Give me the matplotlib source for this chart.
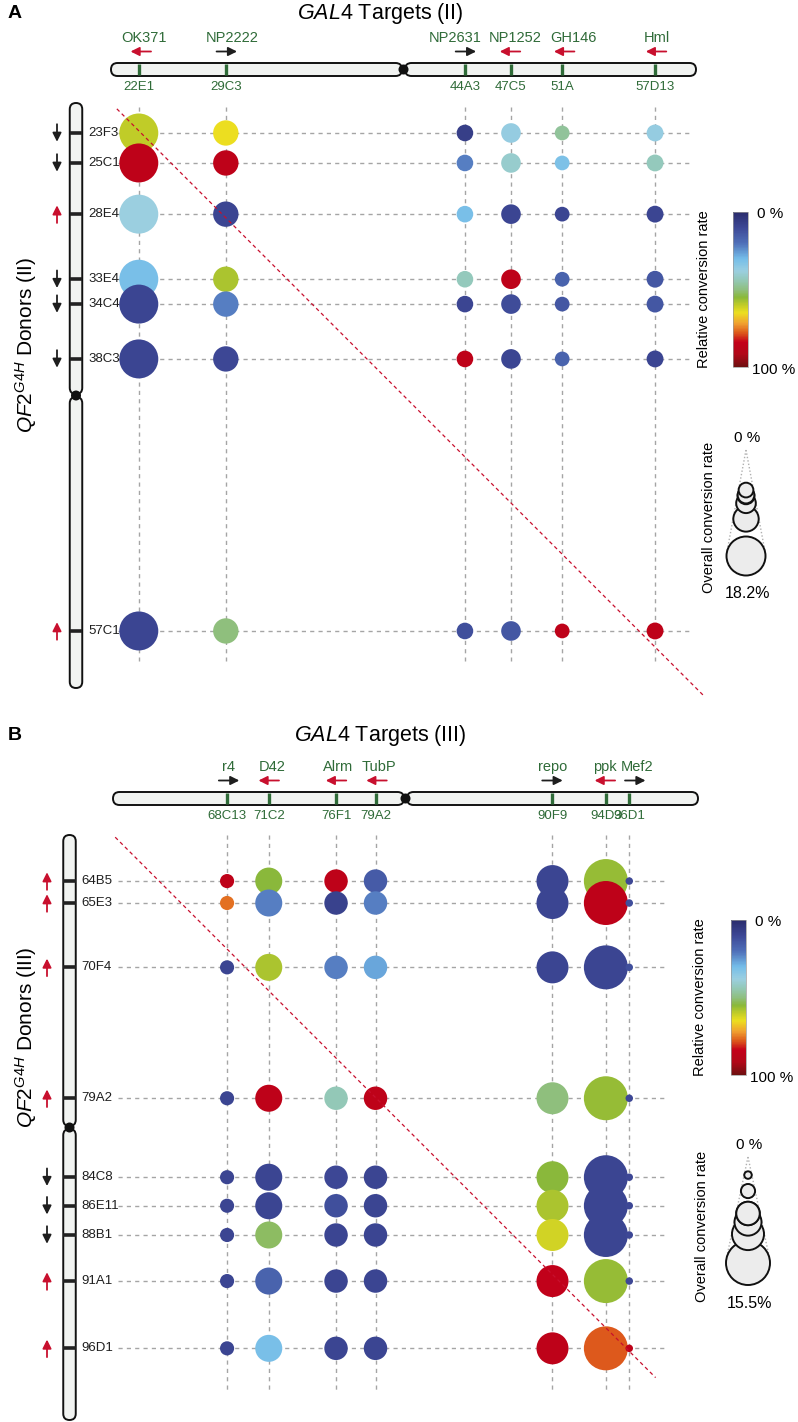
import numpy as np
import matplotlib
matplotlib.use('Agg')
import matplotlib.pyplot as plt
from matplotlib.colors import LinearSegmentedColormap, Normalize
from matplotlib.patches import FancyBboxPatch, Circle
from matplotlib.cm import ScalarMappable

plt.rcParams['font.family'] = ['Liberation Sans', 'DejaVu Sans']
plt.rcParams['mathtext.fontset'] = 'custom'
plt.rcParams['mathtext.it'] = 'Liberation Sans:italic'
plt.rcParams['mathtext.rm'] = 'Liberation Sans'

# ---------------------------------------------------------------- data
# Panel A : chromosome II
a_targets = ['OK371', 'NP2222', 'NP2631', 'NP1252', 'GH146', 'Hml']
a_target_bands = ['22E1', '29C3', '44A3', '47C5', '51A', '57D13']
a_target_pos = [22.9, 28.85, 45.2, 48.35, 51.85, 58.2]      # cytological map position
a_target_dir = [-1, 1, 1, -1, -1, -1]                      # -1 = <- , 1 = ->
a_target_rate = [18.2, 7.7, 3.3, 4.6, 2.6, 3.4]            # overall conversion rate (%)
a_donors = ['23F3', '25C1', '28E4', '33E4', '34C4', '38C3', '57C1']
a_donor_pos = [23.05, 25.1, 28.6, 33.05, 34.75, 38.5, 57.1]
a_donor_dir = [-1, -1, 1, -1, -1, -1, 1]                   # 1 = up, -1 = down
a_rel = [  # relative conversion rate (0..1), rows = donors, cols = targets
    [0.60, 0.65, 0.07, 0.37, 0.47, 0.37],
    [0.86, 0.86, 0.22, 0.41, 0.32, 0.43],
    [0.38, 0.09, 0.31, 0.09, 0.09, 0.09],
    [0.31, 0.58, 0.43, 0.86, 0.17, 0.14],
    [0.09, 0.22, 0.09, 0.11, 0.14, 0.14],
    [0.09, 0.10, 0.86, 0.09, 0.17, 0.09],
    [0.09, 0.50, 0.12, 0.14, 0.86, 0.86],
]

# Panel B : chromosome III
b_targets = ['r4', 'D42', 'Alrm', 'TubP', 'repo', 'ppk', 'Mef2']
b_target_bands = ['68C13', '71C2', '76F1', '79A2', '90F9', '94D3', '96D1']
b_target_pos = [68.8, 71.65, 76.25, 78.95, 91.05, 94.7, 96.3]
b_target_dir = [1, -1, -1, -1, 1, -1, 1]
b_target_rate = [1.6, 5.85, 4.4, 4.4, 8.2, 15.5, 0.45]
b_donors = ['64B5', '65E3', '70F4', '79A2', '84C8', '86E11', '88B1', '91A1', '96D1']
b_donor_pos = [64.15, 65.65, 70.05, 79.0, 84.4, 86.35, 88.35, 91.5, 96.1]
b_donor_dir = [1, 1, 1, 1, -1, -1, -1, 1, 1]
b_rel = [
    [0.86, 0.55, 0.86, 0.15, 0.09, 0.56, 0.10],
    [0.76, 0.22, 0.08, 0.22, 0.09, 0.86, 0.12],
    [0.09, 0.58, 0.22, 0.27, 0.09, 0.09, 0.12],
    [0.09, 0.86, 0.44, 0.86, 0.50, 0.56, 0.10],
    [0.09, 0.09, 0.10, 0.09, 0.55, 0.09, 0.10],
    [0.09, 0.09, 0.12, 0.09, 0.58, 0.09, 0.10],
    [0.09, 0.52, 0.09, 0.09, 0.62, 0.09, 0.10],
    [0.09, 0.17, 0.09, 0.09, 0.85, 0.56, 0.10],
    [0.09, 0.31, 0.09, 0.09, 0.86, 0.78, 0.86],
]

# ---------------------------------------------------------------- style
W, H, DPI = 798, 1422, 100
S = 14.625                      # pixels per cytological unit
GREEN = '#2f6b38'
RED = '#c8102e'
DARK = '#1e1e1e'
GRID = '#a5a5a5'

cmap = LinearSegmentedColormap.from_list('conv', [
    (0.00, '#2a2c6c'), (0.10, '#3d4896'), (0.20, '#4f6fb8'), (0.30, '#74bde9'),
    (0.38, '#9bcfe0'), (0.44, '#93c8b6'), (0.50, '#8fbf80'), (0.55, '#8ab83a'),
    (0.60, '#c0cc28'), (0.65, '#ecdf20'), (0.72, '#f0a030'), (0.78, '#dd5a1c'),
    (0.84, '#c4001a'), (0.92, '#b00818'), (1.00, '#6e1010')])
norm = Normalize(0, 1)

fig = plt.figure(figsize=(W / DPI, H / DPI), dpi=DPI)


def fx(px):
    return px / W


def fy(py):
    return 1 - py / H


def draw_panel(top_px, bot_px, lo, hi, cen, ox, oy, L,
               letter, title, ylabel, targets, bands, tpos, tdir, trate,
               donors, dpos, ddir, rel):
    ax = fig.add_axes([0, 1 - bot_px / H, 1, (bot_px - top_px) / H])
    ax.set_xlim(lo + (0 - ox) / S, lo + (W - ox) / S)
    ax.set_ylim(lo + (bot_px - oy) / S, lo + (top_px - oy) / S)
    ax.axis('off')

    def X(px):
        return lo + (px - ox) / S

    def Y(py):
        return lo + (py - oy) / S

    # headings
    fig.text(fx(8), fy(L['letter_y']), letter, fontsize=14, fontweight='bold',
             ha='left', va='center')
    fig.text(fx(380), fy(L['letter_y']), title, fontsize=15.5, ha='center', va='center')
    fig.text(fx(26), fy(L['ylabel_y']), ylabel, fontsize=15, rotation=90,
             ha='center', va='center')

    # horizontal chromosome (targets)
    bcy = Y(L['bar_cy'])
    hb = 13 / S
    for a, b in [(lo, cen - 0.1), (cen + 0.1, hi)]:
        ax.add_patch(FancyBboxPatch((a, bcy - hb / 2), b - a, hb,
                                    boxstyle=f'round,pad=0,rounding_size={hb / 2}',
                                    fc='#f1f3f1', ec='#111111', lw=1.4, zorder=3))
    ax.add_patch(Circle((cen, bcy), 5 / S, fc='#111111', ec='none', zorder=4))
    for i, t in enumerate(tpos):
        ax.plot([t, t], [bcy - hb / 2 + 0.05, bcy + hb / 2 - 0.05], color=GREEN,
                lw=2.4, solid_capstyle='butt', zorder=4)
        ax.text(t + L['lab_off'][i] / S, Y(L['bar_cy'] - 31), targets[i],
                ha='center', va='center', color=GREEN, fontsize=10.5)
        ax.text(t, Y(L['bar_cy'] + 17.5), bands[i], ha='center', va='center',
                color=GREEN, fontsize=9.5)
        c = RED if tdir[i] < 0 else DARK
        axc = t + L['arr_off'][i] / S
        ay = Y(L['bar_cy'] - 18)
        ax.annotate('', xy=(axc + tdir[i] * 0.7, ay), xytext=(axc - tdir[i] * 0.7, ay),
                    arrowprops=dict(arrowstyle='-|>', color=c, lw=1.3,
                                    mutation_scale=13, shrinkA=0, shrinkB=0))

    # vertical chromosome (donors)
    ccx = X(L['chrom_cx'])
    wc = 12.5 / S
    for a, b in [(lo, cen - 0.1), (cen + 0.1, hi)]:
        ax.add_patch(FancyBboxPatch((ccx - wc / 2, a), wc, b - a,
                                    boxstyle=f'round,pad=0,rounding_size={wc / 2}',
                                    fc='#f1f3f1', ec='#111111', lw=1.4, zorder=3))
    ax.add_patch(Circle((ccx, cen), 5 / S, fc='#111111', ec='none', zorder=4))
    for j, d in enumerate(dpos):
        ax.plot([ccx - wc / 2, ccx + wc / 2], [d, d], color='#222222', lw=2.6,
                solid_capstyle='butt', zorder=4)
        ax.text(X(L['chrom_cx'] + 12), d, donors[j], ha='left', va='center',
                fontsize=9.5, color=DARK)
        c = RED if ddir[j] > 0 else DARK
        axx = X(L['arrow_x'])
        ax.annotate('', xy=(axx, d - ddir[j] * 0.6), xytext=(axx, d + ddir[j] * 0.6),
                    arrowprops=dict(arrowstyle='-|>', color=c, lw=1.3,
                                    mutation_scale=13, shrinkA=0, shrinkB=0))

    # dashed guide lines
    for t in tpos:
        ax.plot([t, t], [Y(L['bar_cy'] + 37), hi - 27 / S], color=GRID, lw=1.0,
                ls=(0, (3, 3)), zorder=1)
    for d in dpos:
        ax.plot([X(118), tpos[-1] + 2.4], [d, d], color=GRID, lw=1.0,
                ls=(0, (3, 3)), zorder=1)

    # bubbles
    rates = np.array(trate)
    r_px = L['rmax'] * np.sqrt(rates / rates.max())
    vals = np.array(rel)
    xs, ys = np.meshgrid(tpos, dpos)
    ss = np.tile((2 * r_px * 72 / DPI) ** 2, (len(dpos), 1))
    ax.scatter(xs.ravel(), ys.ravel(), s=ss.ravel(), c=vals.ravel(), cmap=cmap,
               norm=norm, linewidths=0, zorder=3)

    # diagonal
    d0, d1 = L['diag']
    ax.plot([d0, d1], [d0, d1], color=RED, lw=0.9, ls=(0, (3, 2.5)), zorder=5)

    # colour bar
    cx0, cy0, cx1, cy1 = L['cbar']
    cax = fig.add_axes([fx(cx0), fy(cy1), (cx1 - cx0) / W, (cy1 - cy0) / H])
    cb = fig.colorbar(ScalarMappable(norm=norm, cmap=cmap), cax=cax)
    cax.invert_yaxis()
    cb.set_ticks([])
    cb.outline.set_linewidth(0.5)
    cb.outline.set_edgecolor('#999999')
    fig.text(fx(cx1 + 9), fy(cy0 + 2), '0 %', fontsize=11, ha='left', va='center')
    fig.text(fx(cx1 + 4), fy(cy1 + 3), '100 %', fontsize=11, ha='left', va='center')
    fig.text(fx(L['rel_x']), fy((cy0 + cy1) / 2), 'Relative conversion rate',
             fontsize=10.5, rotation=90, ha='center', va='center')

    # size legend (cone)
    apx, apy = L['apex']
    D = 106
    rmax = L['rmax']
    sin_t = rmax / D
    cos_t = np.sqrt(1 - sin_t ** 2)
    Ltan = D * cos_t
    for sgn in (-1, 1):
        ax.plot([X(apx), X(apx + sgn * Ltan * sin_t)], [Y(apy), Y(apy + Ltan * cos_t)],
                color='#b0b0b0', lw=1.0, ls=(0, (1, 1.5)), zorder=2)
    for r in sorted(r_px, reverse=True):
        ax.add_patch(Circle((X(apx), Y(apy + D * r / rmax)), r / S, fc='#ececec',
                            ec='#111111', lw=1.4, zorder=3))
    fig.text(fx(apx + 1), fy(apy - 12), '0 %', fontsize=11, ha='center', va='center')
    fig.text(fx(apx + 2), fy(apy + D + rmax + 18), f'{rates.max():.1f}%', fontsize=11.5,
             ha='center', va='center')
    fig.text(fx(L['ovr_x']), fy(apy + (D + rmax + 18) / 2 - 4), 'Overall conversion rate',
             fontsize=10.5, rotation=90, ha='center', va='center')
    return ax


layout_a = dict(letter_y=13, ylabel_y=345, bar_cy=69.5, chrom_cx=76, arrow_x=57,
                lab_off=[5, 6, -10, 4, 11, 2], arr_off=[2, 1, 1, -1, 2, 1],
                rmax=19.5, diag=(21.4, 61.5), cbar=(733, 212, 748, 367), rel_x=704,
                apex=(746, 450), ovr_x=709)
layout_b = dict(letter_y=735, ylabel_y=1037, bar_cy=798.5, chrom_cx=69.5, arrow_x=47,
                lab_off=[1, 3, 2, 3, 0, -1, 8], arr_off=[2, 0, 0, 1, 0, -1, 6],
                rmax=22, diag=(61.15, 98.1), cbar=(731, 920, 746, 1075), rel_x=700,
                apex=(748, 1157), ovr_x=702)

draw_panel(0, 711, 21, 61, 41, 111, 103, layout_a, 'A',
           r'$\mathit{GAL4}$ Targets (II)', r'$\mathit{QF2}^{\mathit{G4H}}$ Donors (II)',
           a_targets, a_target_bands, a_target_pos, a_target_dir, a_target_rate,
           a_donors, a_donor_pos, a_donor_dir, a_rel)
draw_panel(711, 1422, 61, 101, 81, 113, 835, layout_b, 'B',
           r'$\mathit{GAL4}$ Targets (III)', r'$\mathit{QF2}^{\mathit{G4H}}$ Donors (III)',
           b_targets, b_target_bands, b_target_pos, b_target_dir, b_target_rate,
           b_donors, b_donor_pos, b_donor_dir, b_rel)

fig.savefig('out.png', dpi=DPI)
